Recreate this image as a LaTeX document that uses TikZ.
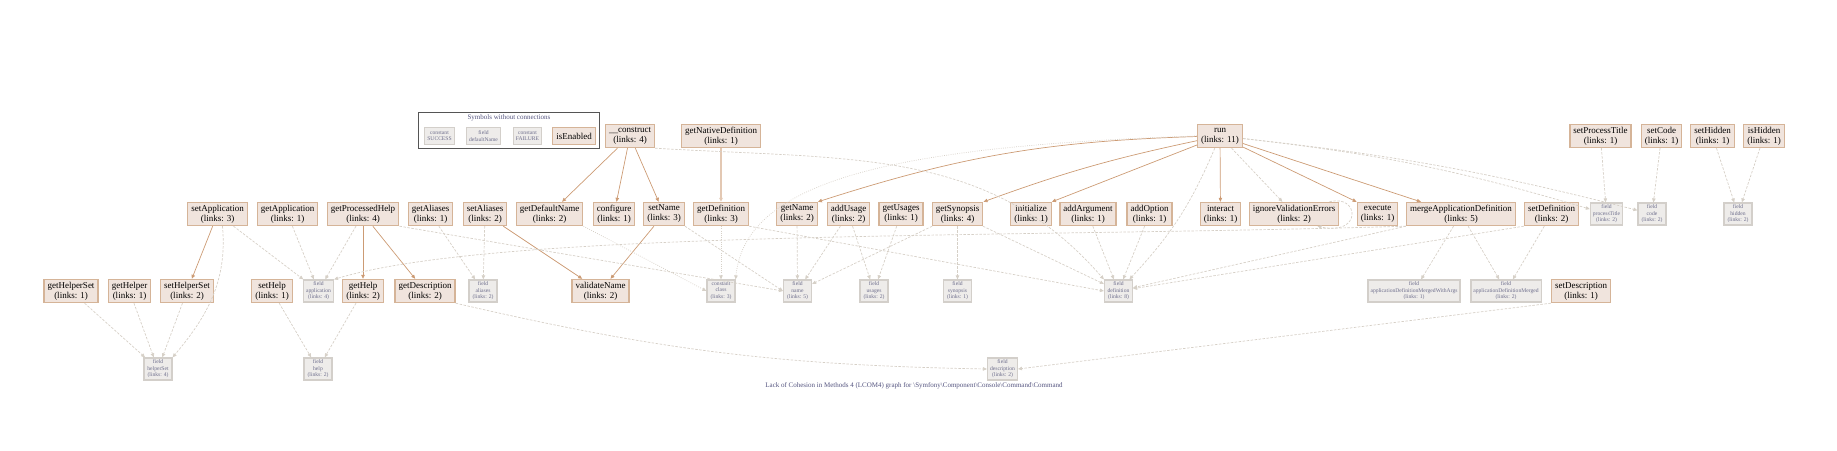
\documentclass[tikz,border=0pt]{standalone}
\usepackage{fontspec}
\setmainfont{Liberation Serif}
\usetikzlibrary{arrows.meta}

\definecolor{mfill}{HTML}{F0E4DD}
\definecolor{mdraw}{HTML}{D5B498}
\definecolor{ffill}{HTML}{EEECEA}
\definecolor{fdraw}{HTML}{D3CFCA}
\definecolor{ftext}{HTML}{6E6E8C}
\definecolor{medge}{HTML}{CC9B74}
\definecolor{fedge}{HTML}{D6D0C7}
\definecolor{captxt}{HTML}{54547F}
\definecolor{legenddraw}{HTML}{555555}

\begin{document}
\begin{tikzpicture}[
    x=1pt, y=-1pt,
    mth/.style={rectangle, draw=mdraw, fill=mfill, line width=1.4pt, align=center,
                font=\fontsize{9}{10}\selectfont, inner xsep=3.5pt, inner ysep=1pt,
                minimum height=23pt},
    fld/.style={rectangle, draw=fdraw, fill=ffill, line width=1.2pt, align=center,
                text=ftext, font=\fontsize{5.6}{6.4}\selectfont, inner xsep=2.5pt,
                inner ysep=1pt, minimum height=22pt, minimum width=28pt},
    me/.style={draw=medge, line width=0.7pt, -{Triangle[length=4pt,width=3.5pt]}},
    fe/.style={draw=fedge, line width=0.7pt, dash pattern=on 2.5pt off 1.5pt,
               -{Triangle[length=4pt,width=3.5pt]}},
    ce/.style={fe, dash pattern=on 0.8pt off 1.4pt},
    captext/.style={text=captxt, font=\fontsize{7}{8}\selectfont, inner sep=0pt},
  ]
  \useasboundingbox (0,0) rectangle (1837,450);

  \node[draw=legenddraw, line width=1.1pt, minimum width=181pt, minimum height=36pt, inner sep=0pt] (legend) at (509,130.5) {};
  \node[captext] (legendTitle) at (509,117.5) {Symbols without connections};
  \node[fld, minimum height=17pt] (C-SUCCESS) at (439.5,136) {constant\\SUCCESS};
  \node[fld, minimum height=17pt] (F-defaultName) at (483.5,136) {field\\defaultName};
  \node[fld, minimum height=17pt] (C-FAILURE) at (527.5,136) {constant\\FAILURE};
  \node[mth, minimum height=17pt] (isEnabled) at (574,136) {isEnabled};

  \node[mth] (cons) at (630,136) {\_\_construct\\(links: 4)};
  \node[mth] (getNativeDefinition) at (721,136) {getNativeDefinition\\(links: 1)};
  \node[mth] (run) at (1220,136) {run\\(links: 11)};
  \node[mth] (setProcessTitle) at (1600.5,136) {setProcessTitle\\(links: 1)};
  \node[mth] (setCode) at (1661.5,136) {setCode\\(links: 1)};
  \node[mth] (setHidden) at (1712.5,136) {setHidden\\(links: 1)};
  \node[mth] (isHidden) at (1764,136) {isHidden\\(links: 1)};

  \node[mth] (setApplication) at (217.5,214) {setApplication\\(links: 3)};
  \node[mth] (getApplication) at (287.5,214) {getApplication\\(links: 1)};
  \node[mth] (getProcessedHelp) at (363,214) {getProcessedHelp\\(links: 4)};
  \node[mth] (getAliases) at (430.5,214) {getAliases\\(links: 1)};
  \node[mth] (setAliases) at (485,214) {setAliases\\(links: 2)};
  \node[mth] (getDefaultName) at (549.5,214) {getDefaultName\\(links: 2)};
  \node[mth] (configure) at (614,214) {configure\\(links: 1)};
  \node[mth] (setName) at (664,214) {setName\\(links: 3)};
  \node[mth] (getDefinition) at (721,214) {getDefinition\\(links: 3)};
  \node[mth] (getName) at (797,214) {getName\\(links: 2)};
  \node[mth] (addUsage) at (848.5,214) {addUsage\\(links: 2)};
  \node[mth] (getUsages) at (901,214) {getUsages\\(links: 1)};
  \node[mth] (getSynopsis) at (957.5,214) {getSynopsis\\(links: 4)};
  \node[mth] (initialize) at (1031,214) {initialize\\(links: 1)};
  \node[mth] (addArgument) at (1088,214) {addArgument\\(links: 1)};
  \node[mth] (addOption) at (1149.5,214) {addOption\\(links: 1)};
  \node[mth] (interact) at (1220.5,214) {interact\\(links: 1)};
  \node[mth] (ignoreValidationErrors) at (1294,214) {ignoreValidationErrors\\(links: 2)};
  \node[mth] (execute) at (1377.5,214) {execute\\(links: 1)};
  \node[mth] (mergeApplicationDefinition) at (1461,214) {mergeApplicationDefinition\\(links: 5)};
  \node[mth] (setDefinition) at (1551.5,214) {setDefinition\\(links: 2)};
  \node[fld] (F-processTitle) at (1606.5,214) {field\\processTitle\\(links: 2)};
  \node[fld] (F-code) at (1652,214) {field\\code\\(links: 2)};
  \node[fld] (F-hidden) at (1738,214) {field\\hidden\\(links: 2)};

  \node[mth] (getHelperSet) at (71,291) {getHelperSet\\(links: 1)};
  \node[mth] (getHelper) at (129.5,291) {getHelper\\(links: 1)};
  \node[mth] (setHelperSet) at (187,291) {setHelperSet\\(links: 2)};
  \node[mth] (setHelp) at (272,291) {setHelp\\(links: 1)};
  \node[fld] (F-application) at (318.5,291) {field\\application\\(links: 4)};
  \node[mth] (getHelp) at (363,291) {getHelp\\(links: 2)};
  \node[mth] (getDescription) at (425,291) {getDescription\\(links: 2)};
  \node[fld] (F-aliases) at (483,291) {field\\aliases\\(links: 2)};
  \node[mth] (validateName) at (600.5,291) {validateName\\(links: 2)};
  \node[fld] (C-class) at (721,291) {constant\\class\\(links: 3)};
  \node[fld] (F-name) at (797.5,291) {field\\name\\(links: 5)};
  \node[fld] (F-usages) at (874,291) {field\\usages\\(links: 2)};
  \node[fld] (F-synopsis) at (957.5,291) {field\\synopsis\\(links: 1)};
  \node[fld] (F-definition) at (1118.5,291) {field\\definition\\(links: 8)};
  \node[fld] (F-mergedWithArgs) at (1414,291) {field\\applicationDefinitionMergedWithArgs\\(links: 1)};
  \node[fld] (F-merged) at (1506,291) {field\\applicationDefinitionMerged\\(links: 2)};
  \node[mth] (setDescription) at (1581,291) {setDescription\\(links: 1)};

  \node[fld] (F-helperSet) at (158,369) {field\\helperSet\\(links: 4)};
  \node[fld] (F-help) at (318,369) {field\\help\\(links: 2)};
  \node[fld] (F-description) at (1002.5,369) {field\\description\\(links: 2)};

  \node[captext] (caption) at (914,386) {Lack of Cohesion in Methods 4 (LCOM4) graph for \textbackslash Symfony\textbackslash Component\textbackslash Console\textbackslash Command\textbackslash Command};

  \draw[me] (cons) -- (getDefaultName);
  \draw[me] (cons) -- (configure);
  \draw[me] (cons) -- (setName);
  \draw[me, draw=medge!55, line width=1.2pt] (getNativeDefinition) -- (getDefinition);
  \draw[me] (setApplication) -- (setHelperSet);
  \draw[me] (getProcessedHelp) -- (getHelp);
  \draw[me] (getProcessedHelp) -- (getDescription);
  \draw[me] (setAliases) -- (validateName);
  \draw[me] (setName) -- (validateName);
  \draw[me] (run) to[bend right=8] (getName.north east);
  \draw[me] (run) to[bend right=4] (getSynopsis.north east);
  \draw[me] (run) -- (initialize.north east);
  \draw[me] (run) -- (interact);
  \draw[me] (run) -- (execute.north west);
  \draw[me] (run) -- ([xshift=15pt]mergeApplicationDefinition.north west);

  \draw[fe] (setApplication) -- (F-application);
  \draw[fe] ([xshift=5pt]setApplication.south) to[out=-85, in=50] (F-helperSet.north east);
  \draw[fe] (getApplication) -- (F-application);
  \draw[fe] (getProcessedHelp) -- (F-application);
  \draw[fe] (getProcessedHelp.south east) -- (F-name.west);
  \draw[fe] (getHelperSet) -- (F-helperSet);
  \draw[fe] (getHelper) -- (F-helperSet);
  \draw[fe] (setHelperSet) -- (F-helperSet);
  \draw[fe] (setHelp) -- (F-help);
  \draw[fe] (getHelp) -- (F-help);
  \draw[fe] (getAliases) -- (F-aliases);
  \draw[fe] (setAliases) -- (F-aliases);
  \draw[fe] (setName.south east) -- (F-name.west);
  \draw[fe] (getDefinition.south east) -- (F-definition.west);
  \draw[fe] (cons.south east) .. controls +(200,12) and +(-115,-132) .. (F-definition.north west);
  \draw[fe] (getName) -- (F-name);
  \draw[fe] (addUsage) -- (F-name);
  \draw[fe] (addUsage) -- (F-usages);
  \draw[fe] (getUsages) -- (F-usages);
  \draw[fe] (getSynopsis) -- (F-name);
  \draw[fe] (getSynopsis) -- (F-synopsis);
  \draw[fe] (getSynopsis) -- (F-definition);
  \draw[fe] (addArgument) -- (F-definition);
  \draw[fe] (addOption) -- (F-definition);
  \draw[fe] (run) to[bend left=10] (F-definition);
  \draw[fe] (run) -- (ignoreValidationErrors);
  \draw[fe] ([xshift=-10pt]ignoreValidationErrors.north east) .. controls +(30,-8) and +(45,10) .. ([xshift=-22pt]ignoreValidationErrors.south east);
  \draw[fe] (run) to[bend left=5] (F-processTitle);
  \draw[fe] (run) to[bend left=4] (F-code);
  \draw[fe] (mergeApplicationDefinition.south west) .. controls +(-400,12) and +(165,-50) .. (F-application.north east);
  \draw[fe] (mergeApplicationDefinition.south west) -- (F-definition);
  \draw[fe] (mergeApplicationDefinition) -- (F-mergedWithArgs);
  \draw[fe] (mergeApplicationDefinition) -- (F-merged);
  \draw[fe] (setDefinition) -- (F-merged);
  \draw[fe] (setDefinition.south west) -- (F-definition);
  \draw[fe] (setProcessTitle) -- (F-processTitle);
  \draw[fe] (setCode) -- (F-code);
  \draw[fe] (setHidden) -- (F-hidden);
  \draw[fe] (isHidden) -- (F-hidden);
  \draw[fe] (getDescription.south east) to[bend right=6] (F-description.west);
  \draw[fe] (setDescription.south west) -- (F-description.east);

  \draw[ce] (getDefaultName.south east) -- (C-class.west);
  \draw[ce] (getDefinition) -- (C-class);
  \draw[ce] (run.west) .. controls +(-300,10) and +(10,-100) .. (C-class.north east);
\end{tikzpicture}
\end{document}
